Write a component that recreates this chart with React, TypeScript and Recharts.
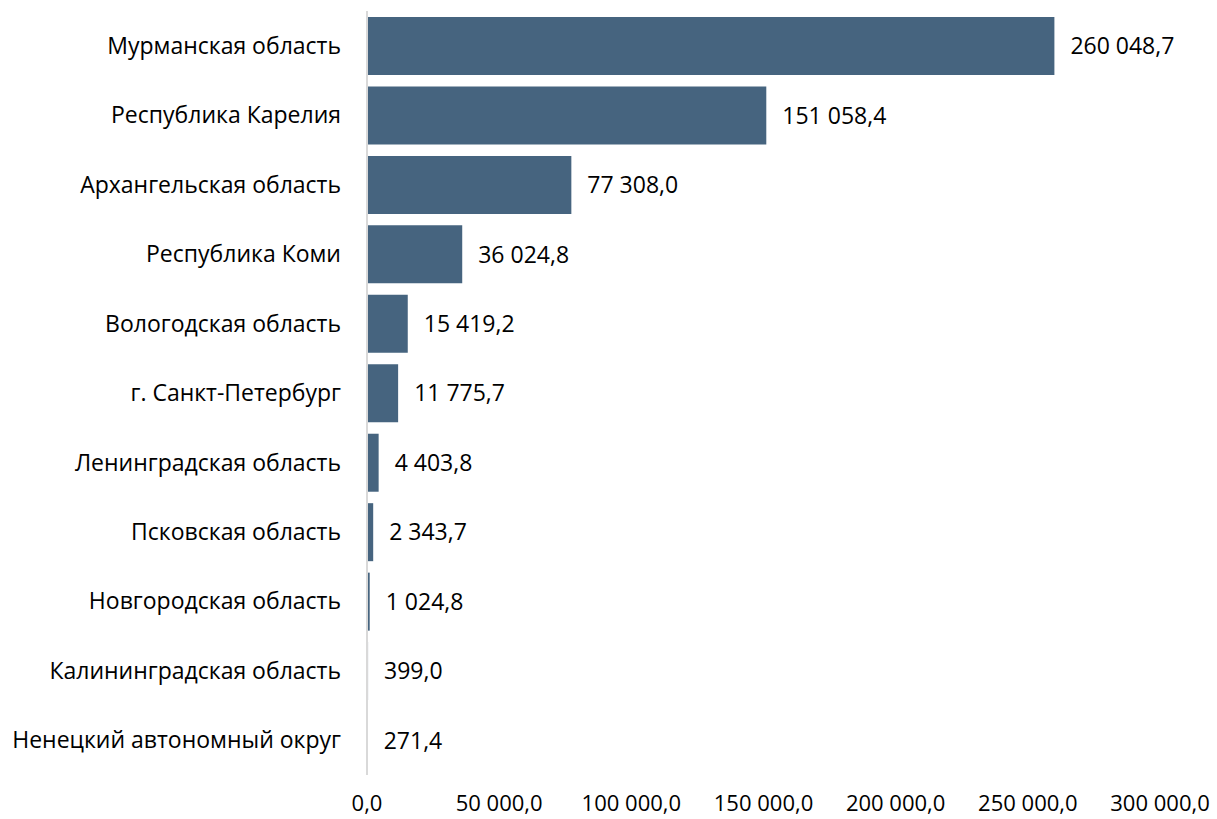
import { Bar, BarChart, LabelList, XAxis, YAxis } from "recharts"

const regions = [
  "Мурманская область",
  "Республика Карелия",
  "Архангельская область",
  "Республика Коми",
  "Вологодская область",
  "г. Санкт-Петербург",
  "Ленинградская область",
  "Псковская область",
  "Новгородская область",
  "Калининградская область",
  "Ненецкий автономный округ",
]

const values = [
  260048.7, 151058.4, 77308.0, 36024.8, 15419.2, 11775.7, 4403.8, 2343.7,
  1024.8, 399.0, 271.4,
]

const xTicks = [0, 50000, 100000, 150000, 200000, 250000, 300000]

const data = regions.map((name, i) => ({ name, value: values[i] }))

// "260 048,7" style: space for thousands, comma for decimals
const fmt = (v: number) => {
  const [int, dec] = v.toFixed(1).split(".")
  return int.replace(/\B(?=(\d{3})+(?!\d))/g, " ") + "," + dec
}

const FONT = "'Open Sans', sans-serif"

function CategoryTick({ x, y, payload }: any) {
  return (
    <text
      x={x - 18}
      y={y}
      dy="0.35em"
      textAnchor="end"
      fontFamily={FONT}
      fontSize={23}
      fill="#000"
    >
      {payload.value}
    </text>
  )
}

function ValueTick({ x, y, payload }: any) {
  return (
    <text
      x={x}
      y={y}
      dy={28}
      textAnchor="middle"
      fontFamily={FONT}
      fontSize={22}
      fill="#000"
    >
      {fmt(payload.value)}
    </text>
  )
}

export default function App() {
  return (
    <div style={{ position: "absolute", left: 0, top: 0, background: "#fff" }}>
      <BarChart
        width={1217}
        height={819}
        data={data}
        layout="vertical"
        margin={{ top: 11, right: 57, bottom: 0, left: 0 }}
        barSize={58}
      >
        <XAxis
          type="number"
          domain={[0, 300000]}
          ticks={xTicks}
          axisLine={false}
          tickLine={false}
          height={44}
          tick={<ValueTick />}
          interval={0}
        />
        <YAxis
          type="category"
          dataKey="name"
          width={367}
          axisLine={{ stroke: "#d9d9d9", strokeWidth: 2 }}
          tickLine={false}
          tick={<CategoryTick />}
          interval={0}
        />
        <Bar dataKey="value" fill="#46647f" isAnimationActive={false}>
          <LabelList
            dataKey="value"
            position="right"
            offset={16}
            formatter={(v: any) => fmt(Number(v))}
            style={{ fontFamily: FONT, fontSize: 23, fill: "#000" }}
          />
        </Bar>
      </BarChart>
    </div>
  )
}
